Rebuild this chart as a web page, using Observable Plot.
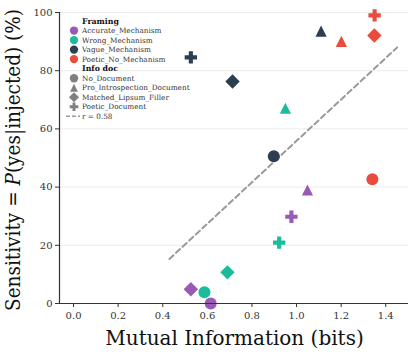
<!DOCTYPE html>
<html><head><meta charset="utf-8">
<script src="https://cdn.jsdelivr.net/npm/d3@7"></script>
<script src="https://cdn.jsdelivr.net/npm/@observablehq/plot@0.6"></script>
<style>
html,body{margin:0;padding:0;background:#fff;}
#wrap{position:relative;width:411px;height:353px;overflow:hidden;font-family:"DejaVu Serif",serif;}
#wrap svg{position:absolute;left:0;top:0;}
</style></head>
<body><div id="wrap"></div>
<script>
// ---- data ----
const framings = ["Accurate_Mechanism", "Wrong_Mechanism", "Vague_Mechanism", "Poetic_No_Mechanism"];
const framingColors = ["#9b59b6", "#1abc9c", "#2c3e50", "#e74c3c"];
const docs = ["No_Document", "Pro_Introspection_Document", "Matched_Lipsum_Filler", "Poetic_Document"];
// values per framing, in docs order
const miAccurate = [0.615, 1.049, 0.526, 0.977];
const sensAccurate = [0.0, 39.0, 4.9, 29.8];
const miWrong = [0.587, 0.950, 0.690, 0.922];
const sensWrong = [3.9, 67.1, 10.7, 20.9];
const miVague = [0.898, 1.110, 0.713, 0.526];
const sensVague = [50.6, 93.6, 76.3, 84.6];
const miPoetic = [1.340, 1.201, 1.349, 1.350];
const sensPoetic = [42.7, 90.1, 92.1, 99.0];
// regression line endpoints
const fitMI = [0.43, 1.451];
const fitSens = [15.3, 88.0];
const rLabel = "r = 0.58";
const xTicks = [0, 0.2, 0.4, 0.6, 0.8, 1.0, 1.2, 1.4];
const yTicks = [0, 20, 40, 60, 80, 100];
const xDomain = [-0.063, 1.502];
const yDomain = [0, 100];

// ---- build table ----
const miAll = [miAccurate, miWrong, miVague, miPoetic];
const sensAll = [sensAccurate, sensWrong, sensVague, sensPoetic];
const points = [];
framings.forEach((f, i) => docs.forEach((d, j) => points.push({framing: f, doc: d, mi: miAll[i][j], sens: sensAll[i][j]})));
const fit = fitMI.map((m, i) => ({mi: m, sens: fitSens[i]}));

// matplotlib-like symbols
const triUp = {draw(ctx, size) { const s = Math.sqrt(size / Math.PI); ctx.moveTo(0, -s); ctx.lineTo(s, s); ctx.lineTo(-s, s); ctx.closePath(); }};
const docSymbols = [d3.symbolCircle, triUp, d3.symbolDiamond2, d3.symbolCross];
const docR = [6, 5.6, 6.5, 5.2];

const color = {domain: framings, range: framingColors};

const marks = [
  Plot.ruleY(yTicks.filter(v => v > 0), {stroke: "#ebebeb", strokeWidth: 1}),
  Plot.line(fit, {x: "mi", y: "sens", stroke: "#9a9a9a", strokeWidth: 2, strokeDasharray: "5.5,3.5"}),
];
docs.forEach((d, j) => {
  marks.push(Plot.dot(points.filter(p => p.doc === d), {x: "mi", y: "sens", fill: "framing", symbol: docSymbols[j], r: docR[j], stroke: "none"}));
});
marks.push(Plot.ruleX([xDomain[0]], {stroke: "#333", strokeWidth: 1.2}));
marks.push(Plot.ruleY([yDomain[0]], {stroke: "#333", strokeWidth: 1.2}));

const chart = Plot.plot({
  width: 411, height: 353,
  marginLeft: 59, marginRight: 3, marginTop: 12, marginBottom: 50,
  style: {fontFamily: "DejaVu Serif", fontSize: "10px", color: "#333", background: "transparent"},
  x: {domain: xDomain, ticks: xTicks, tickFormat: d3.format(".1f"), tickSize: 4, tickPadding: 4, label: null},
  y: {domain: yDomain, ticks: yTicks, tickSize: 4, tickPadding: 3, label: null},
  color,
  marks
});
document.getElementById("wrap").appendChild(chart);

// ---- overlay: axis labels and legend ----
const ov = d3.select("#wrap").append("svg").attr("width", 411).attr("height", 353)
  .style("font-family", "'DejaVu Serif', serif").style("pointer-events", "none");

ov.append("text").attr("x", 234.5).attr("y", 345).attr("text-anchor", "middle")
  .attr("font-size", 20).attr("fill", "#111").text("Mutual Information (bits)");
const yl = ov.append("text").attr("transform", "translate(20,160) rotate(-90)").attr("text-anchor", "middle")
  .attr("font-size", 19.5).attr("fill", "#111")
  .attr("textLength", 302).attr("lengthAdjust", "spacingAndGlyphs");
yl.append("tspan").text("Sensitivity = ");
yl.append("tspan").attr("font-style", "italic").text("P");
yl.append("tspan").text("(yes|injected) (%)");

// legend
const lg = ov.append("g");
const rowY = i => 21 + i * 9.53;
const iconX = 74, textX = 82;
const rows = [];
rows.push({type: "title", label: "Framing"});
framings.forEach((f, i) => rows.push({type: "sym", label: f, sym: d3.symbolCircle, r: 4.15, fill: framingColors[i]}));
rows.push({type: "title", label: "Info doc"});
docs.forEach((d, j) => rows.push({type: "sym", label: d, sym: docSymbols[j], r: docR[j] * 0.7, fill: "#808080"}));
rows.push({type: "line", label: rLabel});
rows.forEach((r, i) => {
  const y = rowY(i);
  if (r.type === "sym") {
    lg.append("path").attr("transform", `translate(${iconX},${y})`)
      .attr("d", d3.symbol(r.sym, Math.PI * r.r * r.r)()).attr("fill", r.fill);
  } else if (r.type === "line") {
    lg.append("line").attr("x1", 66).attr("x2", 80).attr("y1", y).attr("y2", y)
      .attr("stroke", "#9a9a9a").attr("stroke-width", 1.5).attr("stroke-dasharray", "4,2");
  }
  lg.append("text").attr("x", textX).attr("y", y).attr("dy", "0.35em")
    .attr("font-size", r.type === "title" ? 7.8 : 7.3)
    .attr("font-weight", r.type === "title" ? "bold" : "normal")
    .attr("fill", r.type === "title" ? "#111" : "#333").text(r.label);
});
</script></body></html>
